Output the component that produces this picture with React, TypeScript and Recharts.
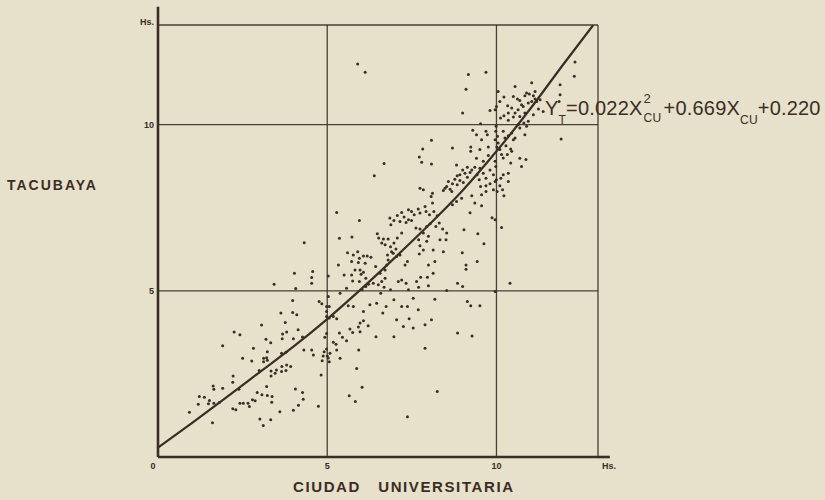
import React from "react";
import { ScatterChart, Scatter, XAxis, YAxis, CartesianGrid, ReferenceLine } from "recharts";

const INK = "#3b2d26";
const PAPER = "#e7e0cb";
const FONT = "'Liberation Sans', Arial, sans-serif";

// [Ciudad Universitaria hrs, Tacubaya hrs]
const lowerPoints: [number, number][] = [
  [3.98, 4.71], [4.76, 4.68], [4.84, 4.61], [3.63, 4.33], [3.98, 4.35], [4.1, 4.28], [3.76, 4.05],
  [3.06, 3.97], [2.25, 3.76], [2.42, 3.68], [3.68, 3.7], [3.8, 3.76], [4.14, 3.83], [3.67, 3.56],
  [4.0, 3.56], [4.27, 3.61], [3.19, 3.54], [3.33, 3.44], [1.91, 3.35], [2.82, 3.27], [3.23, 3.17],
  [3.65, 3.12], [3.78, 3.15], [4.31, 3.22], [4.54, 3.22], [4.59, 3.07], [4.91, 3.17], [2.5, 2.97],
  [2.77, 2.89], [3.12, 2.97], [3.21, 2.99], [3.12, 2.87], [3.23, 2.91], [4.85, 2.9], [4.88, 3.04],
  [3.8, 2.77], [3.66, 2.72], [3.92, 2.72], [3.5, 2.62], [2.99, 2.6], [3.34, 2.59], [3.46, 2.52],
  [3.65, 2.57], [3.78, 2.6], [2.22, 2.44], [4.82, 2.47], [3.34, 2.44], [2.21, 2.25], [1.63, 2.14],
  [1.65, 2.04], [1.91, 2.07], [2.39, 2.04], [3.21, 2.12], [4.06, 2.05], [2.93, 1.94], [3.07, 1.87],
  [3.23, 1.85], [3.37, 1.82], [4.27, 1.94], [1.22, 1.82], [1.37, 1.8], [1.52, 1.7], [1.65, 1.62],
  [1.81, 1.64], [1.19, 1.59], [1.49, 1.6], [2.42, 1.62], [2.52, 1.62], [2.66, 1.62], [2.79, 1.72],
  [2.87, 1.69], [3.36, 1.65], [4.29, 1.74], [2.7, 1.52], [4.15, 1.56], [4.74, 1.53], [2.21, 1.45],
  [2.3, 1.42], [4.0, 1.41], [3.6, 1.36], [0.93, 1.35], [3.01, 1.14], [3.33, 1.12], [1.61, 1.03],
  [3.11, 0.95], [4.03, 5.53], [4.57, 5.58], [4.54, 5.23], [3.43, 5.2], [4.07, 5.07], [4.32, 6.45],
  [4.54, 5.4],
];

const middlePoints: [number, number][] = [
  [5.03, 5.45], [5.03, 4.83], [5.06, 4.53], [5.28, 7.36], [5.95, 7.12], [5.36, 6.58], [5.73, 6.62],
  [6.48, 6.72], [6.52, 6.59], [5.6, 6.15], [5.77, 6.08], [5.9, 6.18], [5.95, 5.98], [6.07, 6.05],
  [6.18, 6.05], [6.29, 6.01], [5.72, 5.88], [5.92, 5.85], [6.12, 5.83], [5.82, 5.63], [5.97, 5.63],
  [6.07, 5.56], [5.72, 5.48], [6.0, 5.5], [5.5, 5.48], [6.14, 5.38], [5.75, 5.3], [5.95, 5.28],
  [5.33, 5.78], [6.43, 5.73], [5.57, 5.08], [5.38, 4.93], [6.14, 5.13], [6.22, 5.2], [6.03, 5.03],
  [6.36, 5.23], [4.98, 4.53], [4.98, 4.38], [4.98, 4.23], [5.06, 4.18], [5.18, 4.23], [5.28, 4.16],
  [5.62, 4.55], [5.77, 4.53], [6.07, 4.38], [6.26, 4.58], [6.46, 4.63], [7.89, 3.27], [6.07, 4.1],
  [5.97, 4.03], [5.92, 3.91], [5.67, 3.85], [5.75, 3.75], [5.97, 3.77], [5.45, 3.6], [5.57, 3.5],
  [5.18, 3.45], [5.28, 3.22], [5.38, 2.97], [4.98, 3.72], [4.93, 3.6], [4.98, 3.25], [5.08, 3.12],
  [5.0, 3.04], [5.06, 2.87], [5.93, 3.22], [5.87, 2.66], [6.03, 2.1], [5.65, 1.84], [5.83, 1.67],
  [7.37, 1.21], [8.25, 1.97], [8.85, 3.73], [9.28, 3.64], [6.97, 3.62], [6.44, 3.62], [5.26, 3.39],
  [5.36, 3.73], [5.03, 2.98], [6.21, 3.95], [9.1, 5.78], [9.1, 5.65], [9.43, 5.88], [8.99, 6.15],
  [10.4, 5.23], [9.96, 4.98], [8.85, 5.23], [9.0, 5.13], [9.14, 4.68], [9.24, 4.55], [9.51, 4.55],
];

const centralPoints: [number, number][] = [
  [6.85, 7.19], [6.97, 7.12], [7.07, 7.27], [7.2, 7.36], [7.27, 7.22], [7.4, 7.44], [7.49, 7.39],
  [7.57, 7.29], [7.69, 7.46], [7.74, 7.34], [7.4, 7.14], [7.15, 7.09], [6.88, 6.99], [7.33, 7.06],
  [7.49, 7.12], [7.92, 7.39], [8.02, 7.29], [8.11, 7.64], [8.15, 7.39], [8.25, 7.26], [8.31, 7.04],
  [8.21, 6.94], [8.04, 7.02], [7.94, 6.94], [7.74, 6.86], [7.62, 6.89], [7.84, 6.74], [7.99, 6.64],
  [7.94, 6.49], [7.7, 6.54], [7.74, 6.36], [7.84, 6.23], [7.72, 6.11], [8.13, 6.23], [8.33, 6.54],
  [8.51, 6.54], [8.53, 6.74], [8.41, 6.86], [8.43, 6.18], [8.18, 5.88], [7.99, 5.78], [8.13, 5.53],
  [7.96, 5.41], [7.76, 5.41], [7.64, 5.28], [7.7, 5.11], [7.3, 5.78], [7.37, 5.88], [7.2, 5.33],
  [7.1, 5.28], [7.33, 5.23], [7.4, 5.03], [7.54, 4.78], [7.99, 5.15], [8.18, 4.75], [8.53, 5.01],
  [7.37, 4.53], [7.69, 4.43], [6.97, 4.73], [7.2, 4.53], [6.74, 4.53], [6.64, 4.33], [7.05, 4.13],
  [7.42, 4.16], [7.89, 3.98], [8.08, 4.13], [7.54, 3.88], [7.25, 3.93], [7.2, 6.74], [7.07, 6.59],
  [6.97, 6.44], [6.87, 6.33], [7.03, 6.26], [6.9, 6.18], [6.78, 6.08], [6.95, 6.13], [7.05, 6.03],
  [7.15, 6.08], [6.8, 5.93], [6.76, 5.78], [6.71, 5.63], [6.56, 5.53], [6.71, 5.38], [6.61, 5.28],
  [6.51, 5.18], [6.68, 5.11], [6.87, 5.03], [6.58, 4.93], [6.66, 6.56], [6.8, 6.56], [6.61, 6.44],
  [6.71, 6.39], [9.22, 7.35], [9.04, 6.84], [9.45, 6.72], [9.87, 7.2], [9.63, 6.42], [10.15, 6.91],
  [9.96, 7.14],
];

const upperPoints: [number, number][] = [
  [5.9, 11.83], [6.12, 11.58], [6.68, 8.83], [6.39, 8.46], [12.32, 11.89], [12.3, 11.46],
  [11.88, 11.2], [11.88, 10.9], [11.85, 10.7], [11.91, 9.57], [9.17, 11.51], [9.69, 11.58],
  [9.1, 11.07], [9.0, 10.35], [9.81, 10.43], [8.08, 9.53], [7.82, 9.27], [8.7, 9.3], [7.72, 9.03],
  [7.79, 8.87], [8.08, 8.82], [9.53, 10.03], [9.3, 9.83], [9.41, 9.7], [9.69, 9.8], [9.73, 9.7],
  [9.56, 9.55], [9.76, 9.33], [9.24, 9.33], [9.24, 9.2], [9.51, 9.25], [9.41, 8.99], [9.61, 8.9],
  [9.76, 9.07], [8.82, 8.79], [9.0, 8.64], [9.14, 8.72], [9.27, 8.64], [9.36, 8.72], [9.51, 8.69],
  [8.92, 8.49], [9.07, 8.54], [9.22, 8.56], [9.14, 8.42], [8.84, 8.46], [8.77, 8.36], [8.92, 8.32],
  [9.02, 8.26], [8.7, 8.22], [8.84, 8.19], [8.58, 8.29], [8.53, 8.14], [8.48, 8.09], [8.63, 8.06],
  [8.43, 8.02], [8.68, 7.99], [9.43, 8.49], [9.61, 8.54], [9.49, 8.34], [9.69, 8.39], [9.81, 8.64],
  [9.91, 8.49], [9.53, 8.14], [9.69, 8.16], [9.81, 8.22], [9.96, 8.29], [9.91, 8.04], [10.1, 8.16],
  [9.56, 7.89], [9.69, 7.99], [9.27, 7.86], [9.36, 7.64], [9.56, 7.56], [8.97, 7.79], [8.82, 7.69],
  [8.7, 7.59], [8.11, 7.94], [8.07, 7.84], [7.84, 8.04], [7.74, 8.09], [7.89, 7.54],
];

const topRightPoints: [number, number][] = [
  [9.96, 10.45], [9.99, 9.95], [9.98, 9.8], [10.03, 9.65], [9.96, 9.55], [10.05, 9.45],
  [10.01, 9.33], [10.1, 9.25], [10.15, 9.1], [10.2, 9.0], [10.2, 9.8], [10.25, 9.6], [10.35, 9.67],
  [10.45, 9.75], [10.5, 9.55], [10.28, 9.37], [10.42, 9.27], [10.55, 9.6], [10.84, 9.7],
  [10.89, 9.95], [10.81, 10.05], [10.94, 10.1], [10.69, 9.9], [10.64, 10.0], [10.45, 9.2],
  [10.32, 9.1], [10.69, 8.99], [10.87, 8.95], [10.74, 8.74], [10.42, 8.85], [10.35, 8.54],
  [10.2, 8.49], [10.13, 8.39], [10.35, 8.29], [10.18, 8.04], [10.22, 7.86], [10.02, 7.99],
  [10.0, 8.34], [9.98, 8.74], [9.96, 8.9], [10.05, 11.0], [10.22, 10.83], [10.1, 10.7],
  [10.0, 10.55], [10.33, 10.57], [10.45, 10.5], [10.55, 11.15], [10.5, 10.85], [10.62, 10.77],
  [10.69, 10.73], [10.84, 10.87], [10.89, 10.95], [10.97, 10.92], [11.04, 11.26], [11.09, 10.87],
  [11.14, 10.77], [11.04, 10.7], [10.94, 10.65], [10.79, 10.55], [10.64, 10.45], [10.55, 10.35],
  [10.35, 10.35], [10.22, 10.27], [10.12, 10.2], [10.35, 10.13], [10.5, 10.23], [10.69, 10.25],
  [10.84, 10.35], [11.09, 10.3], [11.24, 10.47], [11.38, 10.4], [11.19, 10.7], [11.29, 10.75],
  [11.14, 11.0], [10.74, 10.6],
];

// fitted curve as drawn: Y = 0.022X^2 + 0.669X + 0.220
const curveCU = [0, 1, 2, 3, 4, 5, 6, 7, 8, 9, 10, 11, 12, 12.86];
const curveTac = [0.28, 1.02, 1.78, 2.55, 3.32, 4.15, 5.05, 6.0, 6.98, 8.02, 9.2, 10.48, 11.85, 13];

const axisTicks = [0, 5, 10, 13];
const xTickLabels = ["0", "5", "10", "Hs."];
const yTickLabels = ["", "5", "10", "Hs."];

const observations = [...lowerPoints, ...middlePoints, ...centralPoints, ...upperPoints, ...topRightPoints].map(
  ([x, y]) => ({ x, y })
);
const curve = curveCU.map((x, i) => ({ x, y: curveTac[i] }));

const Dot = (props: any) => <circle cx={props.cx} cy={props.cy} r={1.5} fill={INK} />;
const NoDot = () => <g />;

const XTick = (props: any) => {
  const v = props.payload.value;
  const i = axisTicks.indexOf(v);
  const dx = v === 0 ? -5 : v === 13 ? 11 : 0;
  return (
    <text x={props.x + dx} y={props.y + 8} textAnchor="middle" fontSize={9} fontWeight="bold" fill={INK} fontFamily={FONT}>
      {xTickLabels[i]}
    </text>
  );
};

const YTick = (props: any) => {
  const v = props.payload.value;
  const i = axisTicks.indexOf(v);
  const dy = v === 13 ? 0 : 3;
  return (
    <text x={props.x} y={props.y + dy} textAnchor="end" fontSize={9} fontWeight="bold" fill={INK} fontFamily={FONT}>
      {yTickLabels[i]}
    </text>
  );
};

export default function App() {
  return (
    <div style={{ position: "absolute", left: 0, top: 0, width: 825, height: 500, background: PAPER, overflow: "hidden" }}>
      <div style={{ position: "absolute", left: 0, top: 0 }}>
        <ScatterChart width={825} height={500} margin={{ top: 25, right: 227, bottom: 23, left: 118 }}>
          <CartesianGrid stroke={INK} strokeWidth={1.3} strokeOpacity={0.9} />
          <XAxis
            type="number"
            dataKey="x"
            domain={[0, 13]}
            ticks={axisTicks}
            height={20}
            tickSize={0}
            tickMargin={4}
            tickLine={false}
            axisLine={{ stroke: INK, strokeWidth: 2.6 }}
            tick={<XTick />}
            allowDataOverflow
          />
          <YAxis
            type="number"
            dataKey="y"
            domain={[0, 13]}
            ticks={axisTicks}
            width={40}
            tickSize={0}
            tickMargin={4}
            tickLine={false}
            axisLine={{ stroke: INK, strokeWidth: 2.6 }}
            tick={<YTick />}
            allowDataOverflow
          />
          <ReferenceLine segment={[{ x: 0, y: 13 }, { x: 0, y: 13.55 }]} stroke={INK} strokeWidth={2.6} ifOverflow="visible" />
          <ReferenceLine segment={[{ x: 13, y: 0 }, { x: 13.35, y: 0 }]} stroke={INK} strokeWidth={2.6} ifOverflow="visible" />
          <Scatter data={observations} shape={Dot} isAnimationActive={false} />
          <Scatter
            data={curve}
            shape={NoDot}
            line={{ stroke: INK, strokeWidth: 2.2 }}
            lineJointType="monotoneX"
            isAnimationActive={false}
          />
        </ScatterChart>
      </div>
      <div
        style={{
          position: "absolute", left: 7, top: 177, fontFamily: FONT, fontWeight: "bold",
          fontSize: 14, letterSpacing: 2, color: INK,
        }}
      >
        TACUBAYA
      </div>
      <div
        style={{
          position: "absolute", left: 293, top: 478, fontFamily: FONT, fontWeight: "bold",
          fontSize: 15, letterSpacing: 1.6, color: INK, whiteSpace: "pre",
        }}
      >
        {"CIUDAD   UNIVERSITARIA"}
      </div>
      <div
        style={{
          position: "absolute", left: 545, top: 97, fontFamily: FONT, fontSize: 20,
          color: INK, whiteSpace: "pre", lineHeight: "22px", letterSpacing: 0.2,
        }}
      >
        Y<span style={{ fontSize: 12, position: "relative", top: 9 }}>T</span>=0.022X
        <span style={{ display: "inline-block", position: "relative", width: 21, height: 22, verticalAlign: "top" }}>
          <span style={{ position: "absolute", left: 1, top: -9, fontSize: 13 }}>2</span>
          <span style={{ position: "absolute", left: 1, top: 10, fontSize: 12 }}>CU</span>
        </span>
        +0.669X<span style={{ fontSize: 12, position: "relative", top: 9 }}>CU</span>+0.220
      </div>
    </div>
  );
}
